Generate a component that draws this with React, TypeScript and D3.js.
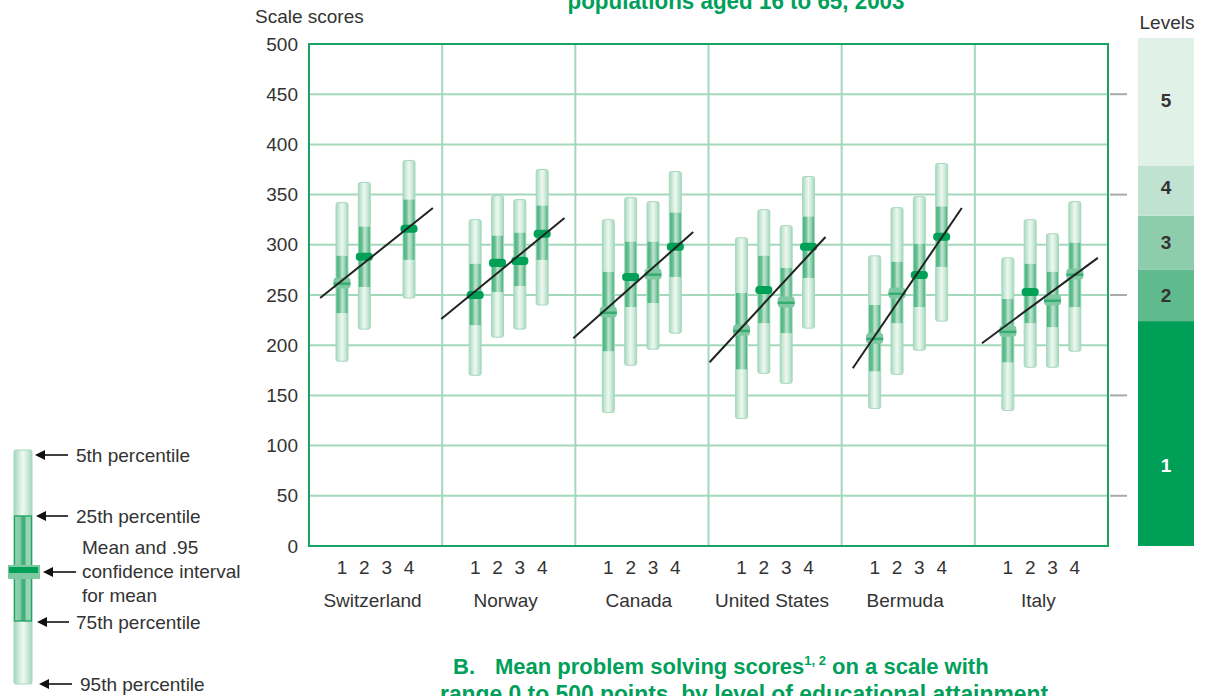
import React from "react";
import * as d3 from "d3";

const countries = ["Switzerland", "Norway", "Canada", "United States", "Bermuda", "Italy"];
const levels = [1, 2, 3, 4];

// percentiles per country per level of education (null = no data)
const p95: (number | null)[][] = [
  [342, 362, null, 384],
  [325, 349, 345, 375],
  [325, 347, 343, 373],
  [307, 335, 319, 368],
  [289, 337, 348, 381],
  [287, 325, 311, 343],
];
const p75: (number | null)[][] = [
  [289, 318, null, 345],
  [281, 309, 312, 339],
  [273, 303, 303, 332],
  [252, 289, 277, 328],
  [240, 283, 301, 338],
  [246, 281, 273, 302],
];
const means: (number | null)[][] = [
  [262, 288, null, 316],
  [250, 282, 284, 311],
  [233, 268, 271, 298],
  [215, 255, 243, 298],
  [207, 252, 270, 308],
  [214, 253, 245, 271],
];
const p25: (number | null)[][] = [
  [232, 258, null, 285],
  [220, 253, 259, 285],
  [194, 238, 242, 268],
  [176, 222, 212, 267],
  [174, 222, 238, 278],
  [183, 222, 218, 238],
];
const p5: (number | null)[][] = [
  [184, 216, null, 247],
  [170, 208, 216, 240],
  [133, 180, 196, 212],
  [127, 172, 162, 217],
  [137, 171, 195, 224],
  [135, 178, 178, 194],
];
// 1 = narrow (dark) interval marker, 0 = wider (light) interval marker
const meanDark: (number | null)[][] = [
  [0, 1, null, 1],
  [1, 1, 1, 1],
  [0, 1, 0, 1],
  [0, 1, 0, 1],
  [0, 0, 1, 1],
  [0, 1, 0, 0],
];
// regression lines: [level, score] at start and end
const lineFrom = [[0.02, 247], [-0.52, 226], [-0.57, 207], [-0.43, 183], [0.02, 177], [-0.16, 202]];
const lineTo = [[5.07, 336.6], [5.0, 326.7], [4.8, 312.7], [4.76, 307.8], [4.9, 336.6], [5.03, 287]];

const yTicks = [0, 50, 100, 150, 200, 250, 300, 350, 400, 450, 500];
const levelNames = ["1", "2", "3", "4", "5"];
const levelBounds = [0, 224, 275, 329, 379, 506];
const levelLabelAt = [80, 250, 302, 357, 444];
const levelColors = ["#009f57", "#5fbb8e", "#8ecdab", "#bfe3d0", "#e0f1e8"];
const rightTicks = [50, 150, 250, 350, 450];

const FONT = "'Liberation Sans', Arial, sans-serif";
const GREEN = "#1aa463";
const GRID = "#a3d8bb";

export default function App() {
  const y = d3.scaleLinear().domain([0, 500]).range([546, 44]);
  const xc = d3.scaleBand<string>().domain(countries).range([309, 1108]).padding(0);
  const xl = d3.scaleLinear().domain([1, 4]).range([33, 100]);
  const bw = 12;

  const boxes: React.ReactNode[] = [];
  countries.forEach((c, ci) => {
    const x0 = xc(c)!;
    levels.forEach((lv, li) => {
      const top = p95[ci][li];
      if (top == null) return;
      const cx = x0 + xl(lv);
      const q75 = p75[ci][li]!;
      const q25 = p25[ci][li]!;
      const bot = p5[ci][li]!;
      const m = means[ci][li]!;
      const dark = meanDark[ci][li] === 1;
      const half = dark ? 4 : 5.5;
      boxes.push(
        <g key={`${ci}-${li}`}>
          <rect x={cx - bw / 2} y={y(top)} width={bw} height={y(bot) - y(top)} rx={2}
            fill="url(#outerGrad)" stroke="#a6d9be" strokeWidth={1} />
          <rect x={cx - bw / 2 + 0.5} y={y(q75)} width={bw - 1} height={y(q25) - y(q75)}
            fill="url(#innerGrad)" />
          <rect x={cx - 8.5} y={y(m + half)} width={17} height={y(m - half) - y(m + half)} rx={3.5}
            fill={dark ? "#00a057" : "#7fc9a2"} />
          {!dark && (
            <rect x={cx - 8.5} y={y(m) - 0.5} width={17} height={2.5} fill="#2aa86a" opacity={0.85} />
          )}
        </g>
      );
    });
  });

  const lines = countries.map((c, ci) => {
    const x0 = xc(c)!;
    return (
      <line key={c} x1={x0 + xl(lineFrom[ci][0])} y1={y(lineFrom[ci][1])}
        x2={x0 + xl(lineTo[ci][0])} y2={y(lineTo[ci][1])} stroke="#222" strokeWidth={2} />
    );
  });

  const arrow = (x1: number, x2: number, yy: number, key: string) => (
    <g key={key}>
      <line x1={x1 + 8} y1={yy} x2={x2} y2={yy} stroke="#111" strokeWidth={1.6} />
      <path d={`M${x1},${yy} L${x1 + 10},${yy - 5} L${x1 + 10},${yy + 5} Z`} fill="#111" />
    </g>
  );

  return (
    <svg width={1206} height={696} style={{ position: "absolute", left: 0, top: 0, background: "#fff" }}
      fontFamily={FONT}>
      <defs>
        <linearGradient id="outerGrad" x1="0" x2="1" y1="0" y2="0">
          <stop offset="0" stopColor="#a2d7ba" />
          <stop offset="0.25" stopColor="#cdeada" />
          <stop offset="0.5" stopColor="#eef8f2" />
          <stop offset="0.75" stopColor="#cdeada" />
          <stop offset="1" stopColor="#a2d7ba" />
        </linearGradient>
        <linearGradient id="innerGrad" x1="0" x2="1" y1="0" y2="0">
          <stop offset="0" stopColor="#45b37c" />
          <stop offset="0.3" stopColor="#6cc396" />
          <stop offset="0.5" stopColor="#c3e4d2" />
          <stop offset="0.7" stopColor="#a0d6b8" />
          <stop offset="1" stopColor="#45b37c" />
        </linearGradient>
        <linearGradient id="legGrad" x1="0" x2="1" y1="0" y2="0">
          <stop offset="0" stopColor="#a2d7ba" />
          <stop offset="0.3" stopColor="#d4edde" />
          <stop offset="0.5" stopColor="#eef8f2" />
          <stop offset="0.7" stopColor="#d4edde" />
          <stop offset="1" stopColor="#a2d7ba" />
        </linearGradient>
        <linearGradient id="legInner" x1="0" x2="1" y1="0" y2="0">
          <stop offset="0" stopColor="#9ad4b4" />
          <stop offset="0.35" stopColor="#7fc9a2" />
          <stop offset="0.45" stopColor="#3fb077" />
          <stop offset="0.6" stopColor="#3fb077" />
          <stop offset="0.7" stopColor="#9ad4b4" />
          <stop offset="1" stopColor="#9ad4b4" />
        </linearGradient>
      </defs>

      {/* titles */}
      <text x={736} y={9} textAnchor="middle" fontSize={23} fontWeight="bold" fill="#00a05a"
        textLength={337} lengthAdjust="spacingAndGlyphs">populations aged 16 to 65, 2003</text>
      <text x={453} y={674} fontSize={22} fontWeight="bold" fill="#00a05a">B.</text>
      <text x={495} y={674} fontSize={22} fontWeight="bold" fill="#00a05a">
        Mean problem solving scores
        <tspan fontSize={13} dy={-9}>1, 2</tspan>
        <tspan dy={9}> on a scale with</tspan>
      </text>
      <text x={744} y={702} textAnchor="middle" fontSize={23} fontWeight="bold" fill="#00a05a"
        textLength={608} lengthAdjust="spacingAndGlyphs">range 0 to 500 points, by level of educational attainment</text>

      <text x={255} y={23} fontSize={19} fill="#333">Scale scores</text>
      <text x={1167} y={29} textAnchor="middle" fontSize={19} fill="#333">Levels</text>

      {/* grid */}
      {yTicks.filter((t) => t > 0 && t < 500).map((t) => (
        <line key={t} x1={309} x2={1108} y1={y(t)} y2={y(t)} stroke={GRID} strokeWidth={2} />
      ))}
      {countries.slice(1).map((c) => (
        <line key={c} x1={xc(c)!} x2={xc(c)!} y1={44} y2={546} stroke={GRID} strokeWidth={2} />
      ))}
      <rect x={309} y={44} width={799} height={502} fill="none" stroke={GREEN} strokeWidth={2} />

      {/* y tick labels */}
      {yTicks.map((t) => (
        <text key={t} x={298} y={y(t)} textAnchor="end" dominantBaseline="central" fontSize={19} fill="#333">{t}</text>
      ))}

      {/* x labels */}
      {countries.map((c) => (
        <g key={c}>
          {levels.map((lv) => (
            <text key={lv} x={xc(c)! + xl(lv)} y={567} textAnchor="middle" dominantBaseline="central"
              fontSize={19} fill="#333">{lv}</text>
          ))}
          <text x={xc(c)! + xl(2.5) - 3} y={600} textAnchor="middle" dominantBaseline="central"
            fontSize={19} fill="#333">{c}</text>
        </g>
      ))}

      {boxes}
      {lines}

      {/* levels bar */}
      {rightTicks.map((t) => (
        <line key={t} x1={1110} x2={1127} y1={y(t)} y2={y(t)} stroke="#aaa" strokeWidth={2} />
      ))}
      {levelNames.map((n, i) => (
        <g key={n}>
          <rect x={1138} y={y(levelBounds[i + 1])} width={56}
            height={y(levelBounds[i]) - y(levelBounds[i + 1])} fill={levelColors[i]} />
          <text x={1166} y={y(levelLabelAt[i])} textAnchor="middle" dominantBaseline="central"
            fontSize={19} fontWeight="bold" fill={i === 0 ? "#fff" : "#333"}>{n}</text>
        </g>
      ))}

      {/* legend */}
      <rect x={14} y={450} width={18} height={234} rx={1.5} fill="url(#legGrad)" stroke="#a6d9be" strokeWidth={1} />
      <rect x={14.5} y={516} width={17} height={105} fill="url(#legInner)" stroke="#1aa463" strokeWidth={1.3} />
      <rect x={8} y={565} width={32} height={14} fill="#7fc9a2" />
      <rect x={9} y={567} width={29} height={6} fill="#00a057" />
      {arrow(35, 68, 455, "a1")}
      {arrow(36, 68, 516, "a2")}
      {arrow(43, 76, 572, "a3")}
      {arrow(37, 69, 622, "a4")}
      {arrow(39, 72, 684, "a5")}
      <text x={76} y={455} dominantBaseline="central" fontSize={19} fill="#333">5th percentile</text>
      <text x={76} y={516} dominantBaseline="central" fontSize={19} fill="#333">25th percentile</text>
      <text x={82} y={547} dominantBaseline="central" fontSize={19} fill="#333">Mean and .95</text>
      <text x={82} y={571} dominantBaseline="central" fontSize={19} fill="#333">confidence interval</text>
      <text x={82} y={595} dominantBaseline="central" fontSize={19} fill="#333">for mean</text>
      <text x={76} y={622} dominantBaseline="central" fontSize={19} fill="#333">75th percentile</text>
      <text x={80} y={684} dominantBaseline="central" fontSize={19} fill="#333">95th percentile</text>
    </svg>
  );
}
